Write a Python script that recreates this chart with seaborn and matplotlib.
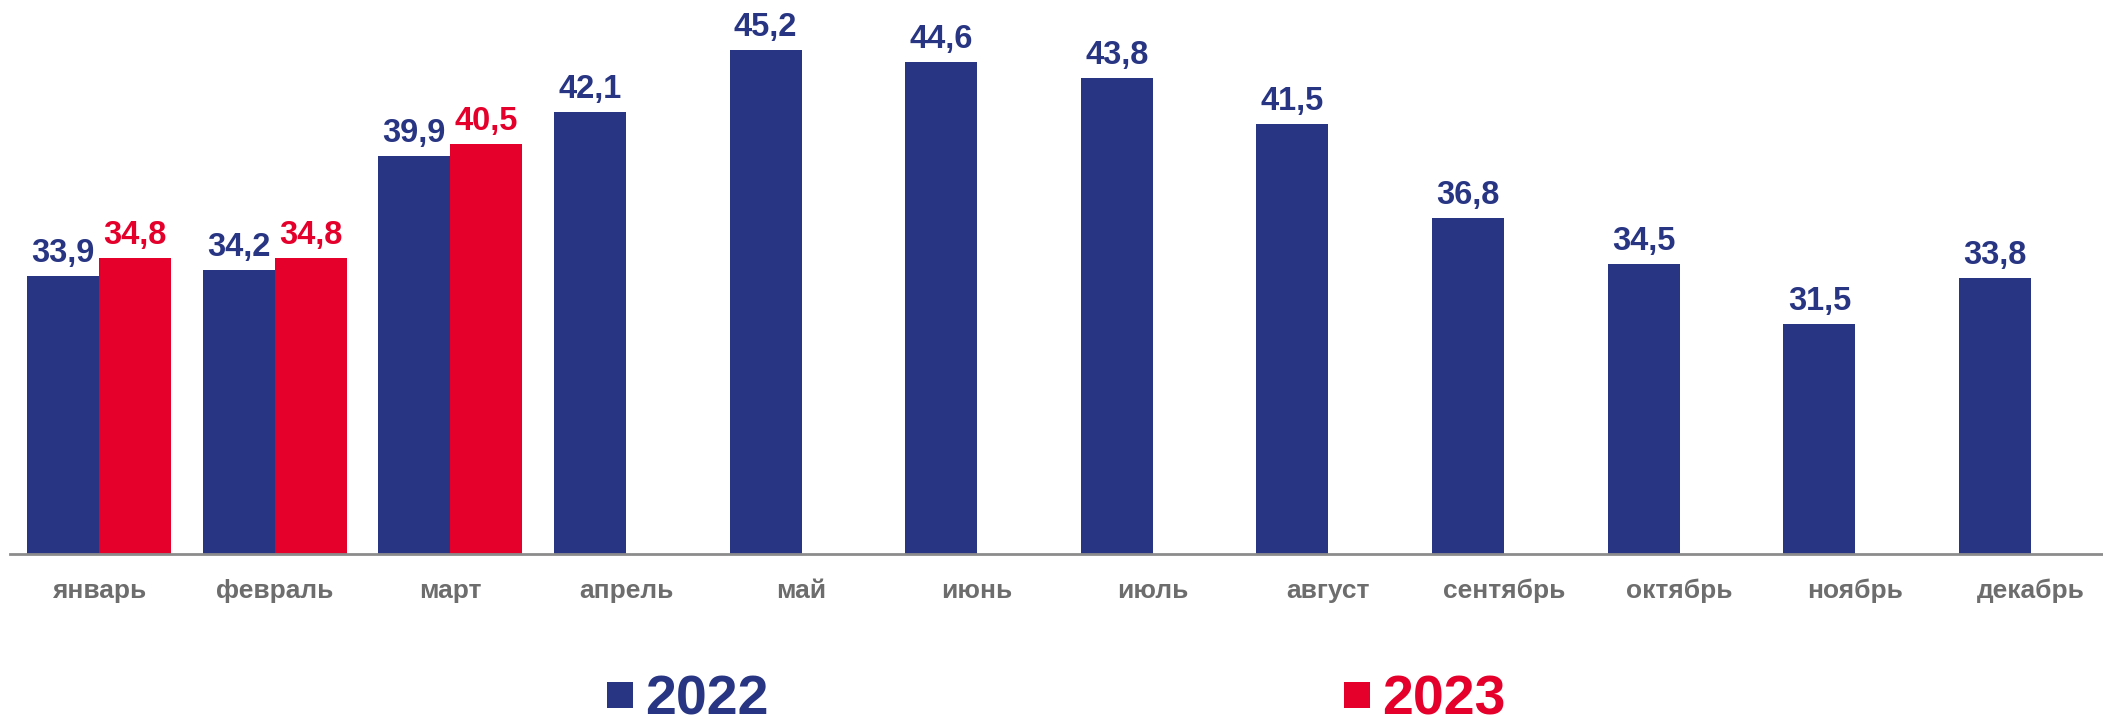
import numpy as np
import pandas as pd
import matplotlib.pyplot as plt
from matplotlib.lines import Line2D
import seaborn as sns

months = ["январь", "февраль", "март", "апрель", "май", "июнь",
          "июль", "август", "сентябрь", "октябрь", "ноябрь", "декабрь"]
values_2022 = [33.9, 34.2, 39.9, 42.1, 45.2, 44.6, 43.8, 41.5, 36.8, 34.5, 31.5, 33.8]
values_2023 = [34.8, 34.8, 40.5]
years = ["2022", "2023"]

navy = "#283583"
red = "#E4002B"

# long-form table for seaborn
df = pd.concat([
    pd.DataFrame({"month": months, "value": values_2022, "year": "2022"}),
    pd.DataFrame({"month": months[:len(values_2023)], "value": values_2023, "year": "2023"}),
], ignore_index=True)

sns.set_style("white")
plt.rcParams["font.family"] = ["Liberation Sans", "DejaVu Sans"]

fig = plt.figure(figsize=(21.03, 7.25), dpi=100)
ax = fig.add_axes([10 / 2103, 171 / 725, 1 - 10 / 2103, 1 - 171 / 725])

sns.barplot(data=df, x="month", y="value", hue="year", order=months,
            hue_order=years, palette=[navy, red], width=0.82, saturation=1,
            linewidth=0, legend=False, ax=ax)

for cont, col in zip(ax.containers, [navy, red]):
    ax.bar_label(cont, labels=[f"{v:.1f}".replace(".", ",") for v in cont.datavalues],
                 padding=5, color=col, fontsize=23.5, fontweight="bold")

ax.set_ylim(20, 47.7)
ax.set_xlim(-0.507, 11.41)
ax.set_xlabel("")
ax.set_ylabel("")
ax.set_yticks([])
ax.tick_params(axis="x", length=0, pad=18, labelsize=19, labelcolor="#6d6d6d")
for lab in ax.get_xticklabels():
    lab.set_fontweight("bold")
for s in ["top", "right", "left"]:
    ax.spines[s].set_visible(False)
ax.spines["bottom"].set_color("#8c8c8c")
ax.spines["bottom"].set_linewidth(2)

handles = [Line2D([], [], marker="s", linestyle="none", markersize=19,
                  markerfacecolor=c, markeredgewidth=0) for c in [navy, red]]
leg = fig.legend(handles, years, loc="center", bbox_to_anchor=(0.5, 0.034),
                 ncol=2, frameon=False, columnspacing=10.2, handletextpad=0.05,
                 handlelength=0.8,
                 prop={"family": ["Liberation Sans Narrow", "Liberation Sans"],
                       "weight": "bold", "size": 40})
for t, c in zip(leg.get_texts(), [navy, red]):
    t.set_color(c)

fig.savefig("out.png", dpi=100)
